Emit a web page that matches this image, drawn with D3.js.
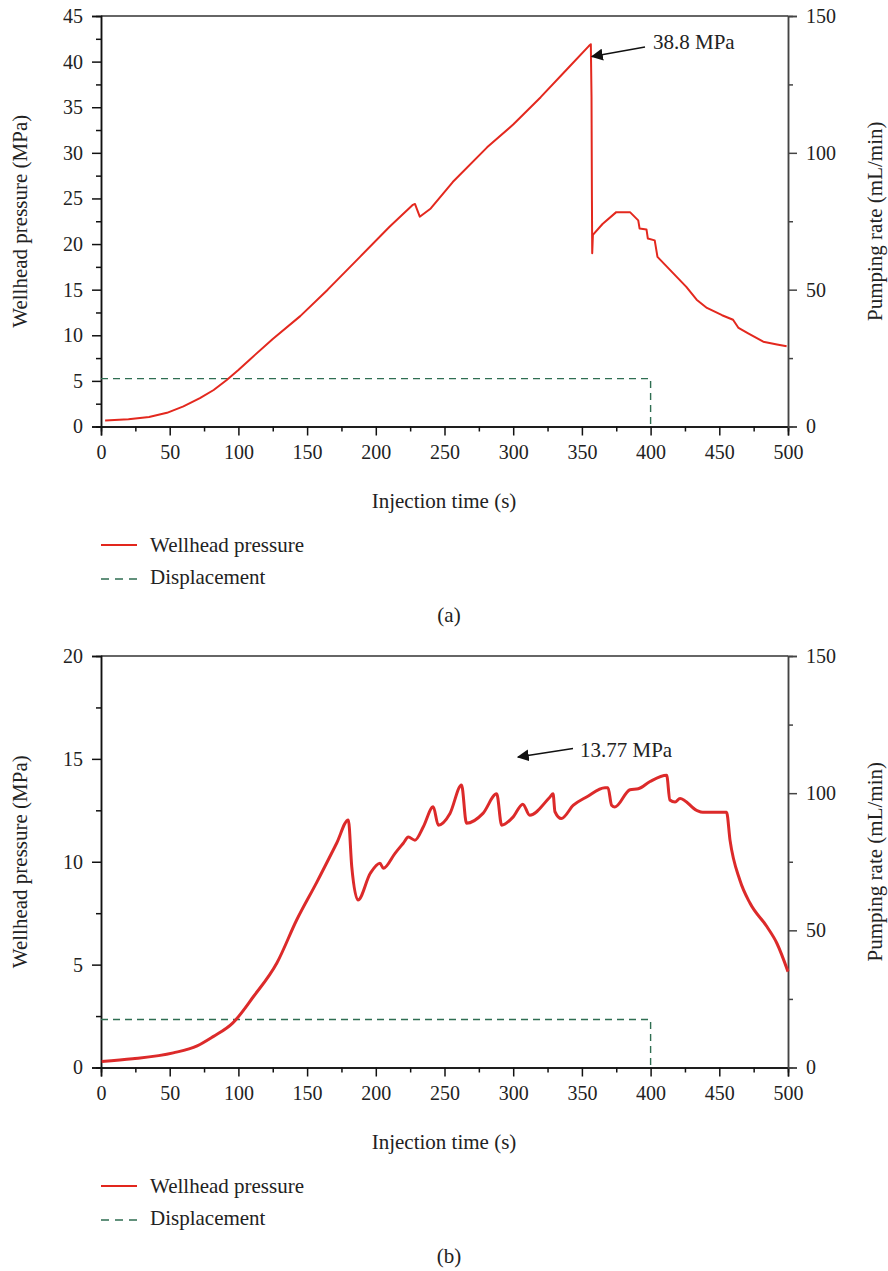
<!DOCTYPE html>
<html>
<head>
<meta charset="utf-8">
<script src="https://cdn.jsdelivr.net/npm/d3@7"></script>
<style>
  body { margin: 0; background: #fff; }
</style>
</head>
<body>
<script>
let w = 888;
let h = 1271;
let font = '"Liberation Serif", "Times New Roman", serif';
let fs = '21px';
let tickFs = '20px';

// panel (a): wellhead pressure (MPa) vs injection time (s)
let timeA = [3, 20, 35, 48, 60, 72, 82, 91.5, 100, 108, 125, 145, 165, 188.5, 210, 227, 228.5, 230, 232, 240, 256, 281, 300, 320, 340, 355, 356.5, 357, 357.3, 357.5, 358, 365, 375, 385, 391, 392, 397, 398, 403, 405, 412, 419, 426, 433.5, 441, 452, 460, 464, 471, 482, 492, 499];
let pressureA = [0.66, 0.8, 1.05, 1.5, 2.2, 3.1, 4.0, 5.1, 6.2, 7.3, 9.6, 12.1, 15.0, 18.6, 21.9, 24.3, 24.4, 23.8, 23.0, 23.9, 26.8, 30.6, 33.1, 36.1, 39.3, 41.7, 41.9, 36.1, 24.8, 19.0, 21.0, 22.2, 23.5, 23.5, 22.6, 21.7, 21.6, 20.6, 20.4, 18.6, 17.5, 16.4, 15.3, 13.9, 13.0, 12.2, 11.7, 10.8, 10.2, 9.3, 9.0, 8.8];

// panel (b)
let timeB = [0.5, 23, 52.6, 70, 81.6, 96, 111, 128, 142.4, 157, 171.5, 180, 182.5, 187, 196, 203, 205.5, 214, 220, 223.7, 228.5, 234.6, 241.8, 245.5, 254, 262.4, 266, 278, 288, 291.6, 300, 307, 312, 326.8, 329, 330.4, 335, 343.8, 353.4, 366.8, 369, 371.6, 374, 385, 391, 399.6, 411.7, 414, 417.8, 421.4, 433.5, 438, 455.3, 457.8, 465, 472.4, 484.6, 491.9, 500];
let pressureB = [0.29, 0.42, 0.71, 1.05, 1.5, 2.17, 3.45, 5.08, 7.17, 9.0, 10.9, 12.03, 9.76, 8.14, 9.44, 9.93, 9.68, 10.41, 10.9, 11.2, 11.05, 11.7, 12.67, 11.78, 12.35, 13.73, 11.87, 12.35, 13.3, 11.78, 12.18, 12.8, 12.26, 13.15, 13.3, 12.43, 12.1, 12.75, 13.15, 13.6, 13.6, 12.75, 12.66, 13.5, 13.55, 13.9, 14.2, 13.0, 12.9, 13.08, 12.5, 12.4, 12.4, 11.05, 9.1, 7.98, 6.85, 6.04, 4.66];

// displacement (mL/min), same for both panels
let dispTime = [0, 400, 400];
let dispRate = [17.5, 17.5, 0];

let xTicks = [0, 50, 100, 150, 200, 250, 300, 350, 400, 450, 500];
let rightTicks = [0, 50, 100, 150];
let leftTicksA = [0, 5, 10, 15, 20, 25, 30, 35, 40, 45];
let leftTicksB = [0, 5, 10, 15, 20];

let red = '#e2261d';
let green = '#2f6e52';

let svg = d3.select('body')
  .append('svg')
  .attr('width', w)
  .attr('height', h);

let addText = (sel, txt) => {
  return sel.append('text')
    .style('font-family', font)
    .style('font-size', fs)
    .attr('fill', '#222')
    .text(txt);
};

let drawPanel = (cfg) => {
  let left = 101;
  let right = 788;
  let g = svg.append('g');

  let xScale = d3.scaleLinear().domain([0, 500]).range([left, right]);
  let yScale = d3.scaleLinear().domain([0, cfg.yMax]).range([cfg.bottom, cfg.top]);
  let y2Scale = d3.scaleLinear().domain([0, 150]).range([cfg.bottom, cfg.top]);

  // top frame line
  g.append('line')
    .attr('x1', left).attr('x2', right)
    .attr('y1', cfg.top).attr('y2', cfg.top)
    .attr('stroke', '#333').attr('stroke-width', 1.3);

  let styleAxis = (sel, col) => {
    sel.selectAll('.domain').attr('stroke', col).attr('stroke-width', 1.5);
    sel.selectAll('.tick line').attr('stroke', col).attr('stroke-width', 1.5);
    sel.selectAll('.tick text')
      .style('font-family', font)
      .style('font-size', tickFs)
      .attr('fill', '#222');
  };

  // minor ticks first
  let minorX = d3.range(25, 500, 50);
  g.append('g')
    .attr('transform', `translate(0,${cfg.bottom})`)
    .call(d3.axisBottom(xScale).tickValues(minorX).tickSize(5).tickFormat(''))
    .call((s) => styleAxis(s, '#111'));
  g.append('g')
    .attr('transform', `translate(${left},0)`)
    .call(d3.axisLeft(yScale).tickValues(d3.range(2.5, cfg.yMax, 5)).tickSize(5).tickFormat(''))
    .call((s) => styleAxis(s, '#111'));
  g.append('g')
    .attr('transform', `translate(${right},0)`)
    .call(d3.axisRight(y2Scale).tickValues([25, 75, 125]).tickSize(5).tickFormat(''))
    .call((s) => styleAxis(s, '#444'));

  // major ticks
  g.append('g')
    .attr('transform', `translate(0,${cfg.bottom})`)
    .call(d3.axisBottom(xScale).tickValues(xTicks).tickSize(9).tickPadding(9).tickFormat(d3.format('d')))
    .call((s) => styleAxis(s, '#111'));
  g.append('g')
    .attr('transform', `translate(${left},0)`)
    .call(d3.axisLeft(yScale).tickValues(cfg.leftTicks).tickSize(9).tickPadding(9).tickFormat(d3.format('d')))
    .call((s) => styleAxis(s, '#111'));
  g.append('g')
    .attr('transform', `translate(${right},0)`)
    .call(d3.axisRight(y2Scale).tickValues(rightTicks).tickSize(9).tickPadding(9).tickFormat(d3.format('d')))
    .call((s) => styleAxis(s, '#444'));

  // displacement dashed line (right axis)
  let dispLine = d3.line()
    .x((d) => { return xScale(d[0]); })
    .y((d) => { return y2Scale(d[1]); });
  g.append('path')
    .datum(d3.zip(dispTime, dispRate))
    .attr('d', dispLine)
    .attr('fill', 'none')
    .attr('stroke', green)
    .attr('stroke-width', 1.4)
    .attr('stroke-dasharray', '7,5');

  // wellhead pressure line
  let presLine = d3.line()
    .curve(cfg.curve)
    .x((d) => { return xScale(d[0]); })
    .y((d) => { return yScale(d[1]); });
  g.append('path')
    .datum(d3.zip(cfg.time, cfg.pressure))
    .attr('d', presLine)
    .attr('fill', 'none')
    .attr('stroke', cfg.color)
    .attr('stroke-width', cfg.lineWidth)
    .attr('stroke-linejoin', 'round');

  // annotation arrow
  g.append('line')
    .attr('x1', cfg.arrow[0]).attr('y1', cfg.arrow[1])
    .attr('x2', cfg.arrow[2]).attr('y2', cfg.arrow[3])
    .attr('stroke', '#111').attr('stroke-width', 1.3)
    .attr('marker-end', 'url(#arrowhead)');
  addText(g, cfg.label)
    .attr('x', cfg.labelPos[0])
    .attr('y', cfg.labelPos[1]);

  // axis titles
  addText(g, 'Wellhead pressure (MPa)')
    .attr('transform', `translate(27,${(cfg.top + cfg.bottom) / 2}) rotate(-90)`)
    .attr('text-anchor', 'middle');
  addText(g, 'Pumping rate (mL/min)')
    .attr('transform', `translate(882,${(cfg.top + cfg.bottom) / 2}) rotate(-90)`)
    .attr('text-anchor', 'middle');
  addText(g, 'Injection time (s)')
    .attr('x', 444)
    .attr('y', cfg.bottom + 81.5)
    .attr('text-anchor', 'middle');

  // legend
  let ly = cfg.bottom + 118.5;
  g.append('line')
    .attr('x1', 101).attr('x2', 137).attr('y1', ly).attr('y2', ly)
    .attr('stroke', red).attr('stroke-width', 2);
  addText(g, 'Wellhead pressure')
    .attr('x', 150).attr('y', ly + 6.5);
  g.append('line')
    .attr('x1', 101).attr('x2', 137).attr('y1', ly + 34).attr('y2', ly + 34)
    .attr('stroke', green).attr('stroke-width', 1.3)
    .attr('stroke-dasharray', '8,6');
  addText(g, 'Displacement')
    .attr('x', 150).attr('y', ly + 38.5);

  addText(g, cfg.caption)
    .attr('x', 449)
    .attr('y', cfg.bottom + 195)
    .attr('text-anchor', 'middle');
};

svg.append('defs').append('marker')
  .attr('id', 'arrowhead')
  .attr('viewBox', '0 0 10 10')
  .attr('refX', 9).attr('refY', 5)
  .attr('markerWidth', 12).attr('markerHeight', 12)
  .attr('markerUnits', 'userSpaceOnUse')
  .attr('orient', 'auto')
  .append('path')
  .attr('d', 'M0,0 L10,5 L0,10 z')
  .attr('fill', '#111');

drawPanel({
  top: 16, bottom: 426.5, yMax: 45, leftTicks: leftTicksA,
  time: timeA, pressure: pressureA, lineWidth: 2, color: '#e3281e', curve: d3.curveLinear,
  arrow: [645, 47, 592, 56.5], labelPos: [653, 49], label: '38.8 MPa', caption: '(a)'
});

drawPanel({
  top: 656, bottom: 1067.5, yMax: 20, leftTicks: leftTicksB,
  time: timeB, pressure: pressureB, lineWidth: 3, color: '#dc2a2a', curve: d3.curveMonotoneX,
  arrow: [573, 748.5, 518, 757], labelPos: [580, 756.5], label: '13.77 MPa', caption: '(b)'
});
</script>
</body>
</html>
